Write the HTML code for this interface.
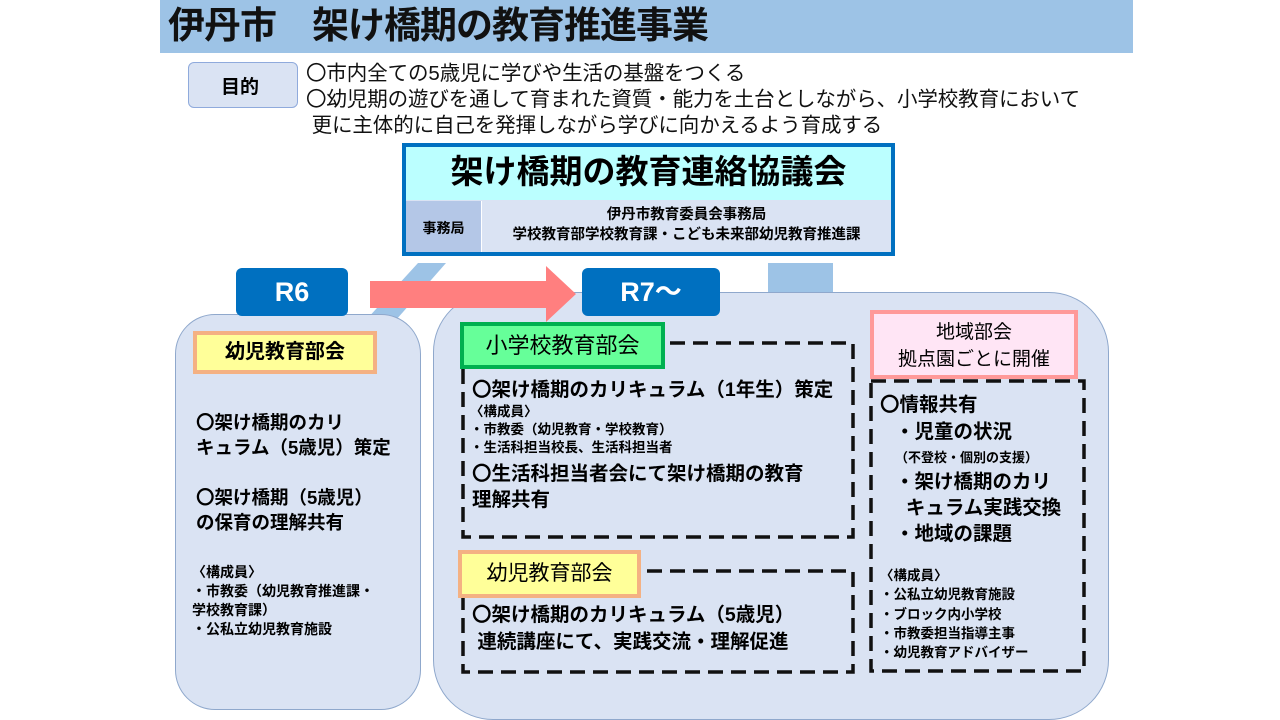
<!DOCTYPE html>
<html><head><meta charset="utf-8"><style>
body{margin:0;width:1280px;height:720px;background:#fff;position:relative;overflow:hidden;font-family:"Liberation Sans","Noto Sans CJK JP",sans-serif;}
.a{position:absolute;white-space:nowrap;}
.b{font-weight:bold;}
</style></head><body>
<div class="a" style="left:160px;top:0;width:973px;height:53px;background:#9dc3e6;"></div>
<div class="a b" style="left:168px;top:5px;font-size:37px;line-height:42px;color:#111;letter-spacing:-1px;">伊丹市　架け橋期の教育推進事業</div>

<div class="a" style="left:188px;top:62px;width:110px;height:46px;background:#dae3f3;border:1px solid #8faadc;border-radius:6px;box-sizing:border-box;"></div>
<div class="a b" style="left:221px;top:72px;font-size:19px;">目的</div>
<div class="a" style="left:306px;top:61px;font-size:20.5px;line-height:26px;color:#111;letter-spacing:-0.1px;">〇市内全ての5歳児に学びや生活の基盤をつくる<br>〇幼児期の遊びを通して育まれた資質・能力を土台としながら、小学校教育において<br>&nbsp;更に主体的に自己を発揮しながら学びに向かえるよう育成する</div>

<svg class="a" style="left:0;top:0" width="1280" height="720">
<polygon points="418,263 446,263 396,320 366,320" fill="#9dc3e6"/>
<rect x="768" y="263" width="65" height="30" fill="#9dc3e6"/>
</svg>

<div class="a" style="left:175px;top:314px;width:246px;height:396px;background:#dae3f3;border:1px solid #8fa8cc;border-radius:40px;box-sizing:border-box;"></div>
<div class="a" style="left:433px;top:292px;width:676px;height:428px;background:#dae3f3;border:1px solid #8fa8cc;border-radius:60px;box-sizing:border-box;"></div>

<div class="a" style="left:402px;top:143px;width:493px;height:113px;border:4px solid #0070c0;box-sizing:border-box;background:#dae3f3;"></div>
<div class="a" style="left:406px;top:147px;width:485px;height:53px;background:#bbffff;"></div>
<div class="a" style="left:406px;top:201px;width:75px;height:51px;background:#b4c7e7;"></div>
<div class="a" style="left:481px;top:201px;width:1px;height:51px;background:#fff;"></div>
<div class="a b" style="left:406px;top:150px;width:485px;text-align:center;font-size:33px;line-height:44px;">架け橋期の教育連絡協議会</div>
<div class="a b" style="left:406px;top:218px;width:75px;text-align:center;font-size:14px;">事務局</div>
<div class="a b" style="left:482px;top:205px;width:409px;text-align:center;font-size:14.5px;line-height:20px;">伊丹市教育委員会事務局<br>学校教育部学校教育課・こども未来部幼児教育推進課</div>

<div class="a b" style="left:236px;top:268px;width:112px;height:48px;background:#0070c0;border-radius:6px;color:#fff;font-size:27px;line-height:48px;text-align:center;">R6</div>
<div class="a b" style="left:582px;top:268px;width:138px;height:48px;background:#0070c0;border-radius:6px;color:#fff;font-size:27px;line-height:48px;text-align:center;">R7～</div>
<svg class="a" style="left:0;top:0" width="1280" height="720">
<polygon points="370,281 546,281 546,266 576,294 546,322 546,308 370,308" fill="#ff7f7f"/>
<g fill="none" stroke="#111" stroke-width="3.5" stroke-dasharray="15,8">
<rect x="463" y="343" width="390" height="194"/>
<rect x="463" y="571" width="390" height="101"/>
<rect x="871" y="381" width="213" height="290"/>
</g>
</svg>

<div class="a b" style="left:193px;top:331px;width:184px;height:43px;background:#ffff99;border:4px solid #f4b183;box-sizing:border-box;text-align:center;font-size:20px;line-height:35px;">幼児教育部会</div>
<div class="a b" style="left:196px;top:410px;font-size:18.5px;line-height:25px;">〇架け橋期のカリ<br>キュラム（5歳児）策定</div>
<div class="a b" style="left:196px;top:485px;font-size:18.5px;line-height:25px;">〇架け橋期（5歳児）<br>の保育の理解共有</div>
<div class="a b" style="left:192px;top:563px;font-size:14px;line-height:19px;">〈構成員〉<br>・市教委（幼児教育推進課・<br>学校教育課）<br>・公私立幼児教育施設</div>

<div class="a" style="left:460px;top:322px;width:205px;height:47px;background:#66ff99;border:4px solid #00b050;box-sizing:border-box;text-align:center;font-size:22px;line-height:39px;">小学校教育部会</div>
<div class="a b" style="left:472px;top:377px;font-size:19.5px;line-height:26px;">〇架け橋期のカリキュラム（1年生）策定</div>
<div class="a b" style="left:470px;top:403px;font-size:13.5px;line-height:18px;">〈構成員〉<br>・市教委（幼児教育・学校教育）<br>・生活科担当校長、生活科担当者</div>
<div class="a b" style="left:472px;top:461px;font-size:19.5px;line-height:26px;">〇生活科担当者会にて架け橋期の教育<br>理解共有</div>

<div class="a" style="left:458px;top:550px;width:183px;height:48px;background:#ffff99;border:4px solid #f4b183;box-sizing:border-box;text-align:center;font-size:21px;line-height:40px;">幼児教育部会</div>
<div class="a b" style="left:472px;top:602px;font-size:19.5px;line-height:27px;">〇架け橋期のカリキュラム（5歳児）<br>&nbsp;連続講座にて、実践交流・理解促進</div>

<div class="a" style="left:870px;top:310px;width:208px;height:69px;background:#ffe5f5;border:4px solid #ff9999;box-sizing:border-box;text-align:center;font-size:19px;line-height:27px;padding-top:5px;">地域部会<br>拠点園ごとに開催</div>
<div class="a b" style="left:880px;top:392px;font-size:19.5px;line-height:26px;">〇情報共有</div>
<div class="a b" style="left:895px;top:419px;font-size:19.5px;line-height:26px;">・児童の状況</div>
<div class="a b" style="left:895px;top:449px;font-size:13px;line-height:18px;">（不登校・個別の支援）</div>
<div class="a b" style="left:895px;top:469px;font-size:19.5px;line-height:26px;">・架け橋期のカリ<br>&nbsp;&nbsp;キュラム実践交換<br>・地域の課題</div>
<div class="a b" style="left:880px;top:566px;font-size:13.5px;line-height:19.3px;">〈構成員〉<br>・公私立幼児教育施設<br>・ブロック内小学校<br>・市教委担当指導主事<br>・幼児教育アドバイザー</div>
</body></html>
